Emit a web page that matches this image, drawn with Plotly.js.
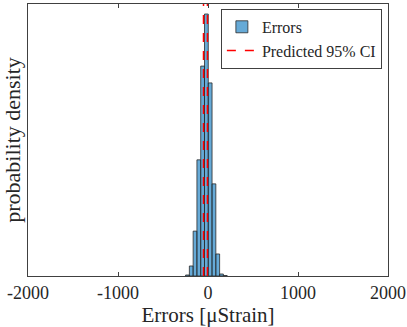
<!DOCTYPE html>
<html>
<head>
<meta charset="utf-8">
<script src="https://cdn.plot.ly/plotly-3.0.1.min.js"></script>
<style>html,body{margin:0;padding:0;background:#fff;}#chart{width:407px;height:327px;}</style>
</head>
<body>
<div id="chart"></div>
<script>
// Histogram bins (µStrain) and estimated probability densities
const binCenters = [-228, -186, -144, -102, -60, -18, 24, 66, 108, 150, 192];
const binWidth = 42;
const densities = [0.000025, 0.00025, 0.00112, 0.0029, 0.00524, 0.00654, 0.00482, 0.0023, 0.00055, 0.00005, 0.000012];
// Predicted 95% confidence interval bounds (µStrain)
const ciBounds = [-50, -6];
const xTicks = [-2000, -1000, 0, 1000, 2000];
const xTickLabels = ['-2000', '-1000', '0', '1000', '2000'];
const yMax = 0.00679;

const ciX = [], ciY = [];
ciBounds.forEach((b, i) => {
  if (i > 0) { ciX.push(null); ciY.push(null); }
  ciX.push(b, b); ciY.push(0, yMax);
});

const font = 'Liberation Serif';
const data = [
  {
    type: 'bar', x: binCenters, y: densities, width: binWidth, name: 'Errors',
    marker: {color: 'rgba(0,114,189,0.6)', line: {color: '#2a2a2a', width: 0.8}}
  },
  {
    type: 'scatter', mode: 'lines', x: ciX, y: ciY, name: 'Predicted 95% CI',
    line: {color: '#ff0000', width: 1.5, dash: 'dash'}
  }
];
const layout = {
  width: 407, height: 327,
  margin: {l: 28, r: 19, t: 4, b: 51},
  paper_bgcolor: '#fff', plot_bgcolor: '#fff',
  showlegend: true,
  bargap: 0,
  font: {family: font, color: '#262626'},
  xaxis: {
    range: [-2000, 2000], tickvals: xTicks, ticktext: xTickLabels,
    ticks: 'inside', ticklen: 4, tickcolor: '#404040',
    showline: true, linecolor: '#404040', linewidth: 1, mirror: 'ticks',
    showgrid: false, zeroline: false,
    tickfont: {size: 18, family: font, color: '#262626'},
    title: {text: 'Errors [μStrain]', font: {size: 21, family: font, color: '#262626'}, standoff: 4}
  },
  yaxis: {
    range: [0, yMax], showticklabels: false, ticks: '',
    showline: true, linecolor: '#404040', linewidth: 1, mirror: true,
    showgrid: false, zeroline: false,
    title: {text: 'probability density', font: {size: 22, family: font, color: '#262626'}, standoff: 2}
  },
  legend: {
    x: 0.983, y: 0.982, xanchor: 'right', yanchor: 'top',
    bgcolor: '#fff', bordercolor: '#404040', borderwidth: 1,
    font: {size: 16, family: font, color: '#262626'},
    tracegroupgap: 0, itemwidth: 30
  }
};
Plotly.newPlot('chart', data, layout, {displayModeBar: false, staticPlot: true});
</script>
</body>
</html>
